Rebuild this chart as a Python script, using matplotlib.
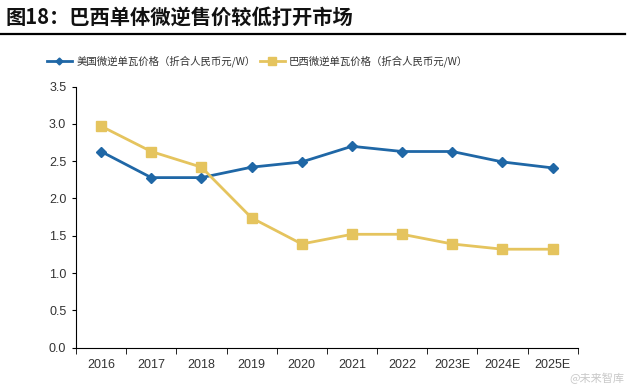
import numpy as np
import matplotlib.pyplot as plt
from matplotlib.lines import Line2D

plt.rcParams['font.family'] = ['Noto Sans CJK SC', 'DejaVu Sans']

years = ['2016', '2017', '2018', '2019', '2020', '2021', '2022', '2023E', '2024E', '2025E']
us_price = [2.63, 2.28, 2.28, 2.42, 2.49, 2.70, 2.63, 2.63, 2.49, 2.41]
brazil_price = [2.97, 2.63, 2.42, 1.74, 1.39, 1.52, 1.52, 1.39, 1.32, 1.32]
yticks = [0.0, 0.5, 1.0, 1.5, 2.0, 2.5, 3.0, 3.5]

blue = '#1f67a6'
yellow = '#e5c45e'

fig = plt.figure(figsize=(6.28, 3.85), dpi=100)

# title + rule
fig.text(0.008, 0.955, '图18：巴西单体微逆售价较低打开市场', fontsize=14.6, fontweight='bold',
         va='center', ha='left', color='#111111')
fig.add_artist(Line2D([0, 0.995], [0.912, 0.912], color='black', lw=1.6))

ax = fig.add_axes([0.121, 0.097, 0.799, 0.678])
x = np.arange(len(years))
ax.plot(x, us_price, color=blue, lw=2, marker='D', ms=5, label='美国微逆单瓦价格（折合人民币元/W）')
ax.plot(x, brazil_price, color=yellow, lw=2, marker='s', ms=7.5, label='巴西微逆单瓦价格（折合人民币元/W）')

ax.set_xlim(-0.5, len(years) - 0.5)
ax.set_ylim(0, 3.5)
ax.set_yticks(yticks)
ax.set_yticklabels([f'{v:.1f}' for v in yticks])
ax.set_xticks(x)
ax.set_xticklabels(years)
ax.set_xticks(np.arange(-0.5, len(years)), minor=True)
ax.tick_params(axis='x', which='major', length=0, pad=8, labelsize=9, labelcolor='#333333')
ax.tick_params(axis='x', which='minor', length=4, direction='out', color='black')
ax.tick_params(axis='y', length=3, labelsize=9, labelcolor='#333333', pad=4)
for lab in ax.get_xticklabels() + ax.get_yticklabels():
    lab.set_fontfamily('Liberation Sans')
for s in ['top', 'right']:
    ax.spines[s].set_visible(False)
ax.spines['left'].set_color('black')
ax.spines['bottom'].set_color('black')

fig.legend(loc='center', bbox_to_anchor=(0.41, 0.84), ncol=2, frameon=False, fontsize=7.5,
           handlelength=2.4, columnspacing=0.4, handletextpad=0.4, labelcolor='#333333',
           markerscale=0.7)

# watermark
fig.text(0.995, 0.018, '@未来智库', fontsize=8, color='#bbbbbb', ha='right', va='center', alpha=0.8)

fig.savefig('out.png', dpi=100)
